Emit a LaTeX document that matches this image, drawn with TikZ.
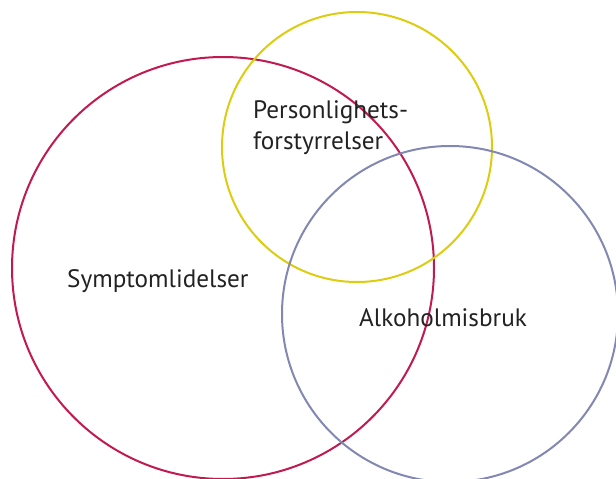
\documentclass[tikz,border=0pt]{standalone}
\usepackage{fontspec}
\setmainfont{PT Sans}
\definecolor{cred}{HTML}{C21A50}
\definecolor{cyel}{HTML}{DDCC10}
\definecolor{cblue}{HTML}{8288B2}
\definecolor{ctext}{HTML}{222222}
\tikzset{ring/.style={line width=2pt},
  lbl/.style={text=ctext,font=\fontsize{25.2}{31}\selectfont,inner sep=0pt}}
\begin{document}
\begin{tikzpicture}[x=1pt,y=-1pt]
\useasboundingbox (0,0) rectangle (616,479);
\draw[ring,cred] (223,268) circle[radius=211];
\draw[ring,cyel] (357,147) circle[radius=135];
\draw[ring,cblue] (450,314) circle[radius=168];
\node[lbl,anchor=west] (s) at (67,281) {Symptomlidelser};
\node[lbl,anchor=west,align=left] (p) at (253,128) {Personlighets-\\forstyrrelser};
\node[lbl,anchor=west] (a) at (359,318) {Alkoholmisbruk};
\end{tikzpicture}
\end{document}
